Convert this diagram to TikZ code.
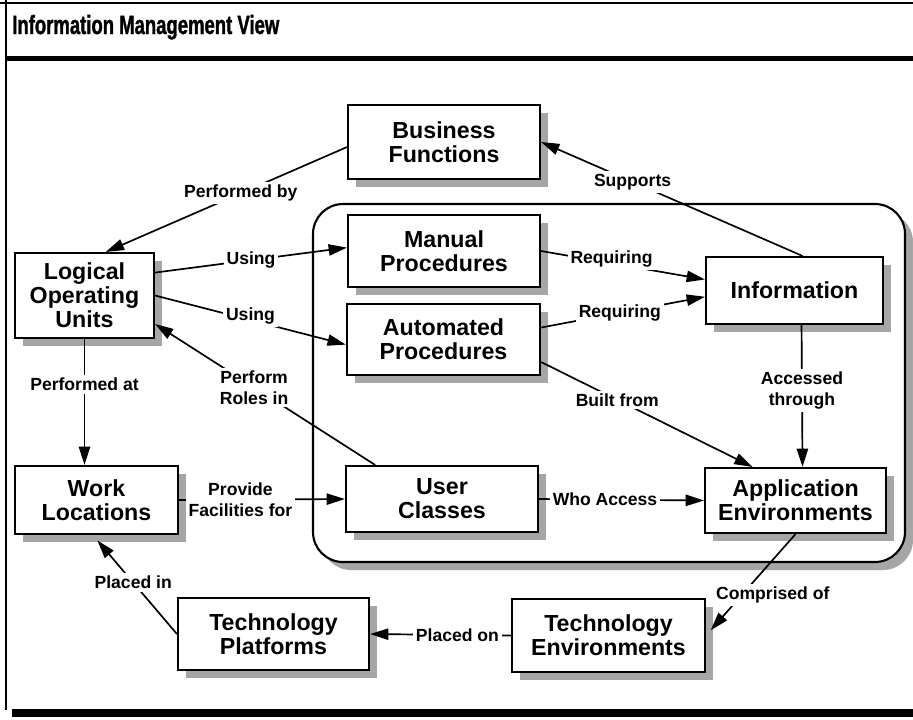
\documentclass[tikz,border=0pt]{standalone}
\usepackage{fontspec}
\setmainfont{Liberation Sans}
\newfontfamily\titlefont[FakeStretch=0.7, FakeBold=1.2]{Liberation Sans}
\usetikzlibrary{arrows.meta,calc,shadows}

\begin{document}
\begin{tikzpicture}[
		x=0.025cm, y=-0.025cm,
		entityBox/.style={draw, line width=1.5pt, fill=white, align=center, inner sep=0pt,
				font=\fontsize{16.5}{17}\selectfont\bfseries,
				general shadow={fill=black!35, opacity=1, shadow xshift=5.7pt, shadow yshift=-5.7pt}},
		groupFrame/.style={draw, line width=1.5pt, fill=white, rounded corners=0.75cm,
				general shadow={fill=black!35, opacity=1, shadow xshift=5.7pt, shadow yshift=-5.7pt}},
		relLabel/.style={fill=white, align=center, inner sep=2pt, font=\fontsize{12.5}{15}\selectfont\bfseries},
		relArrow/.style={line width=1.2pt, -{Triangle[length=13pt,width=8pt]}}]
	\useasboundingbox (0,0) rectangle (913,719);
	\draw[line width=0.8pt] (0,3) -- (913,3);
	\draw[line width=1.2pt] (6,0) -- (6,710);
	\fill (5,56) rectangle (913,61);
	\fill (12,709) rectangle (913,717);
	\node[anchor=base west, inner sep=0pt, font=\titlefont\bfseries\fontsize{18.8}{21}\selectfont] (title) at (12,34) {Information Management View};

	\draw[groupFrame] (313,204) rectangle (905,562);

	\node[entityBox, minimum width=4.8cm, minimum height=1.85cm] (busFunc) at (444,142) {Business\\Functions};
	\node[entityBox, minimum width=4.8cm, minimum height=1.8cm] (manProc) at (444,251) {Manual\\Procedures};
	\node[entityBox, minimum width=4.83cm, minimum height=1.78cm] (autoProc) at (443.5,339.5) {Automated\\Procedures};
	\node[entityBox, minimum width=3.475cm, minimum height=2.125cm] (logUnits) at (84.5,295.5) {Logical\\Operating\\Units};
	\node[entityBox, minimum width=4.425cm, minimum height=1.675cm] (info) at (794.5,290.5) {Information};
	\node[entityBox, minimum width=4.075cm, minimum height=1.7cm] (workLoc) at (96.5,500) {Work\\Locations};
	\node[entityBox, minimum width=4.8cm, minimum height=1.65cm] (userCls) at (442,499) {User\\Classes};
	\node[entityBox, minimum width=4.525cm, minimum height=1.625cm] (appEnv) at (795.5,500.5) {Application\\Environments};
	\node[entityBox, minimum width=4.775cm, minimum height=1.8cm] (techPlat) at (273.5,634) {Technology\\Platforms};
	\node[entityBox, minimum width=4.825cm, minimum height=1.825cm] (techEnv) at (608.5,635.5) {Technology\\Environments};

	\draw[relArrow] (busFunc.183) -- node[relLabel, pos=0.44] (lblPerfBy) {Performed by} (logUnits.64);
	\draw[relArrow] (logUnits.18) -- node[relLabel, pos=0.5] (lblUsingM) {Using} (manProc.178);
	\draw[relArrow] (logUnits.east) -- node[relLabel, pos=0.5, yshift=3pt] (lblUsingA) {Using} (autoProc.183);
	\draw[relArrow] (userCls.153) -- node[relLabel, pos=0.55] (lblRoles) {Perform\\Roles in} (logUnits.338);
	\draw[relArrow] (logUnits.south) -- node[relLabel, pos=0.36] (lblPerfAt) {Performed at} (logUnits.south |- workLoc.north);
	\draw[relArrow] (workLoc.east) -- node[relLabel, pos=0.37] (lblFacil) {Provide\\Facilities for} (userCls.west);
	\draw[relArrow, shorten >=5pt] (techPlat.west) -- node[relLabel, pos=0.52] (lblPlacedIn) {Placed in} (workLoc.264);
	\draw[relArrow] (techEnv.west) -- node[relLabel, pos=0.38] (lblPlacedOn) {Placed on} (techPlat.east);
	\draw[relArrow, shorten >=5pt] (appEnv.south) -- node[relLabel, pos=0.6, xshift=22pt] (lblComprised) {Comprised of} (techEnv.east);
	\draw[relArrow] (userCls.east) -- node[relLabel, pos=0.4] (lblWhoAcc) {Who Access} (appEnv.west);
	\draw[relArrow] (autoProc.347) -- node[relLabel, pos=0.36] (lblBuilt) {Built from} (appEnv.142);
	\draw[relArrow] ([xshift=5pt]info.south) -- node[relLabel, pos=0.46] (lblAccessed) {Accessed\\through} ([xshift=5pt]appEnv.north);
	\draw[relArrow] (manProc.east) -- node[relLabel, pos=0.43, yshift=3pt] (lblReqM) {Requiring} (info.173);
	\draw[relArrow] (autoProc.7) -- node[relLabel, pos=0.48] (lblReqA) {Requiring} (info.184);
	\draw[relArrow] (info.77) -- node[relLabel, pos=0.65] (lblSupports) {Supports} (busFunc.east);
\end{tikzpicture}
\end{document}
